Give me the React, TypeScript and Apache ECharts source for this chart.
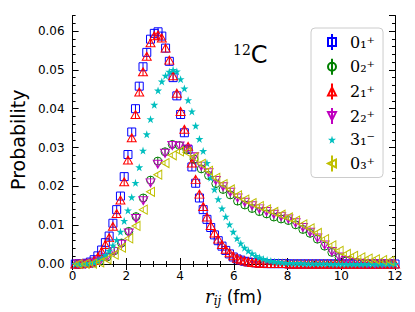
import React, { useEffect, useRef } from 'react';
import * as echarts from 'echarts';

// sample positions r_ij (fm)
const gridA = Array.from({ length: 86 }, (_, k) => Math.round((0.1 + 0.14 * k) * 100) / 100);
const gridB = Array.from({ length: 44 }, (_, j) => Math.round((0.2 + 0.27 * j) * 100) / 100);

const xTicks = [0, 2, 4, 6, 8, 10, 12];
const yTicks = [0, 0.01, 0.02, 0.03, 0.04, 0.05, 0.06];

const names = ['0₁⁺', '0₂⁺', '2₁⁺', '2₂⁺', '3₁⁻', '0₃⁺'];

const v01 = [
  0, 0, 0.0001, 0.0002, 0.0005, 0.0011, 0.0021, 0.0036, 0.0055, 0.0072,
  0.0105, 0.014, 0.0175, 0.0225, 0.0282, 0.034, 0.04, 0.0458, 0.0508, 0.0545,
  0.0579, 0.0594, 0.0598, 0.0587, 0.0556, 0.0522, 0.048, 0.0433, 0.0385, 0.0338,
  0.0295, 0.025, 0.0208, 0.017, 0.014, 0.0115, 0.0094, 0.0075, 0.006, 0.0046,
  0.0035, 0.0026, 0.0018, 0.0013, 0.001, 0.0007, 0.0005, 0.0004, 0.0003, 0.0002,
  0.0002, 0.0001, 0.0001, 0.0001, 0.0001, 0.0001, 0.0001, 0, 0, 0,
  0, 0, 0, 0, 0, 0, 0, 0, 0, 0,
  0, 0, 0, 0, 0, 0, 0, 0, 0, 0,
  0, 0, 0, 0, 0, 0,
];

const v21 = [
  0, 0, 0.0001, 0.0002, 0.0004, 0.0009, 0.0018, 0.0032, 0.005, 0.0068,
  0.0097, 0.013, 0.0165, 0.0212, 0.0268, 0.0325, 0.0385, 0.0443, 0.0495, 0.0535,
  0.057, 0.0588, 0.059, 0.0582, 0.0556, 0.0525, 0.0485, 0.044, 0.0393, 0.0347,
  0.0303, 0.026, 0.0218, 0.018, 0.0148, 0.0121, 0.0099, 0.008, 0.0064, 0.005,
  0.0038, 0.0029, 0.0021, 0.0015, 0.0011, 0.0008, 0.0006, 0.0004, 0.0003, 0.0002,
  0.0002, 0.0001, 0.0001, 0.0001, 0.0001, 0.0001, 0.0001, 0, 0, 0,
  0, 0, 0, 0, 0, 0, 0, 0, 0, 0,
  0, 0, 0, 0, 0, 0, 0, 0, 0, 0,
  0, 0, 0, 0, 0, 0,
];

const v31 = [
  0, 0, 0, 0.0001, 0.0002, 0.0004, 0.0008, 0.0014, 0.0023, 0.0034,
  0.0048, 0.0062, 0.0083, 0.0111, 0.0138, 0.0172, 0.0209, 0.0249, 0.0292, 0.0334,
  0.0373, 0.041, 0.0447, 0.047, 0.0485, 0.0495, 0.05, 0.0496, 0.0476, 0.0452,
  0.0422, 0.0393, 0.0356, 0.0322, 0.0291, 0.026, 0.0222, 0.0192, 0.0167, 0.0143,
  0.0122, 0.0102, 0.0083, 0.0066, 0.0053, 0.0042, 0.0034, 0.0027, 0.0021, 0.0017,
  0.0013, 0.001, 0.0008, 0.0006, 0.0005, 0.0004, 0.0003, 0.0003, 0.0002, 0.0002,
  0.0002, 0.0001, 0.0001, 0.0001, 0.0001, 0.0001, 0.0001, 0.0001, 0, 0,
  0, 0, 0, 0, 0, 0, 0, 0, 0, 0,
  0, 0, 0, 0, 0, 0,
];

const v02 = [
  0, 0, 0.0002, 0.0008, 0.0018, 0.0034, 0.0054, 0.0084, 0.0122, 0.017,
  0.0216, 0.0265, 0.0289, 0.0308, 0.0305, 0.0295, 0.027, 0.0245, 0.0228, 0.0207,
  0.0192, 0.0178, 0.0162, 0.0152, 0.0143, 0.0135, 0.0129, 0.0121, 0.0116, 0.0112,
  0.0101, 0.0089, 0.0079, 0.0064, 0.0046, 0.003, 0.0017, 0.0008, 0.0004, 0.0002,
  0.0001, 0, 0, 0,
];

const v22 = [
  0, 0, 0.0002, 0.0007, 0.0017, 0.0032, 0.0051, 0.008, 0.0117, 0.0163,
  0.0209, 0.0257, 0.0285, 0.0305, 0.0304, 0.0296, 0.0276, 0.0252, 0.0235, 0.0215,
  0.0199, 0.0185, 0.017, 0.0159, 0.015, 0.0142, 0.0135, 0.0128, 0.0122, 0.0116,
  0.0106, 0.0094, 0.0082, 0.0067, 0.0049, 0.0032, 0.0018, 0.0009, 0.0004, 0.0002,
  0.0001, 0, 0, 0,
];

const v03 = [
  0, 0, 0.0001, 0.0004, 0.0012, 0.0024, 0.0042, 0.0066, 0.0098, 0.014,
  0.0186, 0.023, 0.026, 0.028, 0.029, 0.0288, 0.0275, 0.0258, 0.024, 0.0222,
  0.0206, 0.0192, 0.0177, 0.0166, 0.0157, 0.0149, 0.0141, 0.0134, 0.0127, 0.012,
  0.0112, 0.0102, 0.0092, 0.008, 0.0064, 0.0048, 0.0034, 0.0026, 0.0021, 0.0017,
  0.0014, 0.0012, 0.001, 0.0008,
];

const starPts = 'M5,0L6.12,3.45L9.76,3.45L6.82,5.59L7.94,9.05L5,6.91L2.06,9.05L3.18,5.59L0.24,3.45L3.88,3.45Z';
const starLeg = 'M5,4L5.94,7.05L9,7.05L6.53,8.94L7.47,12L5,10.11L2.53,12L3.47,8.94L1,7.05L4.06,7.05Z';

const seriesDefs = [
  { name: names[0], r: gridA, v: v01, color: '#0000ff', filled: false,
    symbol: 'path://M0,0H10V10H0Z M5,0V10', size: [8, 8],
    icon: 'path://M1,4H9V12H1Z M5,0V16' },
  { name: names[1], r: gridB, v: v02, color: '#008000', filled: false,
    symbol: 'path://M10,5A5,5,0,1,1,0,5A5,5,0,1,1,10,5Z M5,0V10', size: [8, 8],
    icon: 'path://M9,8A4,4,0,1,1,1,8A4,4,0,1,1,9,8Z M5,0V16' },
  { name: names[2], r: gridA, v: v21, color: '#ff0000', filled: false,
    symbol: 'path://M5,0L10,9H0Z M5,0V9', size: [9, 8],
    icon: 'path://M5,4L9,12H1Z M5,0V16' },
  { name: names[3], r: gridB, v: v22, color: '#bf00bf', filled: false,
    symbol: 'path://M0,0H10L5,9Z M5,0V9', size: [9, 8],
    icon: 'path://M1,4H9L5,12Z M5,0V16' },
  { name: names[4], r: gridA, v: v31, color: '#00bfbf', filled: true,
    symbol: 'path://' + starPts, size: [8, 8],
    icon: 'path://' + starLeg + ' M5,0V16' },
  { name: names[5], r: gridB, v: v03, color: '#bfbf00', filled: false,
    symbol: 'path://M0,5L9,0V10Z M4.5,2.5V7.5', size: [8, 9],
    icon: 'path://M1,8L9,4V12Z M5,0V16' },
];

const axisBlack = { color: '#000', width: 1 };

export default function App() {
  const ref = useRef<HTMLDivElement>(null);
  useEffect(() => {
    if (!ref.current) return;
    const chart = echarts.init(ref.current, undefined, { renderer: 'svg' });
    const xBase = {
      type: 'value', min: xTicks[0], max: xTicks[xTicks.length - 1], interval: xTicks[1] - xTicks[0],
      splitLine: { show: false },
      axisLine: { show: true, lineStyle: axisBlack },
      axisTick: { show: true, inside: true, length: 6, lineStyle: axisBlack },
      minorTick: { show: true, splitNumber: 4, length: 3, lineStyle: axisBlack },
    };
    const yMajor = {
      type: 'value', min: 0, max: 0.064, interval: yTicks[1] - yTicks[0],
      splitLine: { show: false },
      axisLine: { show: true, lineStyle: axisBlack },
      axisTick: { show: true, inside: true, length: 6, lineStyle: axisBlack },
    };
    const yMinor = {
      type: 'value', min: 0, max: 0.064, interval: 0.002,
      splitLine: { show: false },
      axisLine: { show: false },
      axisLabel: { show: false },
      axisTick: { show: true, inside: true, length: 3, lineStyle: axisBlack },
    };
    const option: any = {
      animation: false,
      backgroundColor: '#ffffff',
      grid: { left: 70, top: 15.5, width: 325, height: 249.5 },
      title: {
        text: '{a|12}{b|C}',
        left: 233, top: 43, padding: 0,
        textStyle: {
          fontWeight: 'normal',
          rich: {
            a: { fontFamily: 'DejaVu Serif', fontSize: 14, fontWeight: 'normal', color: '#000', verticalAlign: 'top', lineHeight: 12 },
            b: { fontFamily: 'DejaVu Sans', fontSize: 24, fontWeight: 'normal', color: '#000', lineHeight: 24 },
          },
        },
      },
      legend: {
        orient: 'vertical', left: 311, top: 28,
        itemWidth: 8, itemHeight: 16, itemGap: 6.7,
        padding: [5, 8, 5, 16],
        borderColor: '#cccccc', borderWidth: 1, borderRadius: 4,
        backgroundColor: 'rgba(255,255,255,0.8)',
        textStyle: { fontFamily: 'DejaVu Serif', fontSize: 16, color: '#000', lineHeight: 16, padding: [0, 0, 0, 9] },
        data: seriesDefs.map((s) => ({ name: s.name, icon: s.icon })),
      },
      xAxis: [
        {
          ...xBase, position: 'bottom',
          axisLabel: { color: '#000', fontSize: 12, fontFamily: 'DejaVu Sans', margin: 6 },
          name: '{r|r}{s|ij}{u| (fm)}', nameLocation: 'middle', nameGap: 22,
          nameTextStyle: {
            rich: {
              r: { fontFamily: 'DejaVu Serif', fontStyle: 'italic', fontSize: 18, color: '#000' },
              s: { fontFamily: 'DejaVu Serif', fontStyle: 'italic', fontSize: 12, color: '#000', padding: [9, 0, 0, 0] },
              u: { fontFamily: 'DejaVu Sans', fontSize: 17, color: '#000' },
            },
          },
        },
        { ...xBase, position: 'top', axisLabel: { show: false } },
      ],
      yAxis: [
        {
          ...yMajor, position: 'left',
          axisLabel: {
            color: '#000', fontSize: 12, fontFamily: 'DejaVu Sans', margin: 8, showMaxLabel: false,
            formatter: (v: number) => v.toFixed(2),
          },
          name: 'Probability', nameLocation: 'middle', nameGap: 42,
          nameTextStyle: { fontFamily: 'DejaVu Sans', fontSize: 19, color: '#000' },
        },
        { ...yMinor, position: 'left' },
        { ...yMajor, position: 'right', axisLabel: { show: false } },
        { ...yMinor, position: 'right' },
      ],
      series: seriesDefs.map((s) => ({
        type: 'scatter',
        name: s.name,
        xAxisIndex: 0,
        yAxisIndex: 0,
        symbol: s.symbol,
        symbolSize: s.size,
        itemStyle: {
          color: s.filled ? s.color : 'rgba(255,255,255,0)',
          borderColor: s.color,
          borderWidth: s.filled ? 0 : 1,
          opacity: 1,
        },
        emphasis: { disabled: true },
        data: s.r.map((r, i) => [r, s.v[i]]),
      })),
    };
    chart.setOption(option);
    return () => chart.dispose();
  }, []);
  return <div ref={ref} style={{ position: 'fixed', left: 0, top: 0, width: 415, height: 312 }} />;
}
